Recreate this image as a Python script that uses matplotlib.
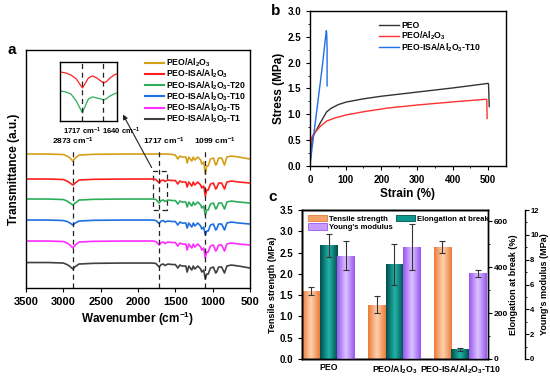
import numpy as np
import matplotlib
matplotlib.use("Agg")
import matplotlib.pyplot as plt
from matplotlib.colors import LinearSegmentedColormap
from matplotlib.patches import Rectangle, Patch

plt.rcParams['font.family'] = ['Liberation Sans', 'DejaVu Sans']
plt.rcParams['font.weight'] = 'bold'
plt.rcParams['axes.labelweight'] = 'bold'
plt.rcParams['mathtext.fontset'] = 'custom'
plt.rcParams['mathtext.rm'] = 'Liberation Sans:bold'
plt.rcParams['mathtext.it'] = 'Liberation Sans:bold'
plt.rcParams['mathtext.bf'] = 'Liberation Sans:bold'
plt.rcParams['mathtext.default'] = 'rm'
plt.rcParams['axes.linewidth'] = 1.0

# ---------------- Panel a data (FTIR) ----------------
wn = [3500, 3200, 3000, 2950, 2910, 2873, 2840, 2790, 2600, 2200, 1800, 1760, 1717, 1690, 1660,
      1640, 1600, 1540, 1500, 1467, 1440, 1410, 1360, 1342, 1320, 1280, 1260, 1240, 1200, 1160,
      1147, 1120, 1099, 1080, 1060, 1030, 990, 960, 947, 920, 880, 842, 810, 750, 650, 500]
ftir_labels = ["PEO/Al$_2$O$_3$", "PEO-ISA/Al$_2$O$_3$", "PEO-ISA/Al$_2$O$_3$-T20",
               "PEO-ISA/Al$_2$O$_3$-T10", "PEO-ISA/Al$_2$O$_3$-T5", "PEO-ISA/Al$_2$O$_3$-T1"]
ftir_colors = ["#d4a017", "#ff1f1f", "#2eae5a", "#1f6fe0", "#ff2bff", "#404040"]
t_peo_al = [134, 134, 133.5, 132, 130, 127, 130, 133, 133.7, 134, 134, 134, 134, 134, 134, 134, 134,
            133.5, 133, 129, 132, 131, 131, 125, 131, 127, 131, 128, 131, 128, 124, 126, 114, 122, 122,
            129, 130, 123, 124, 130, 130, 123, 131, 132, 131, 129]
t_isa = [109, 109, 108.5, 107, 105, 103, 105, 108, 108.7, 109, 109, 108.5, 105, 107.5, 108, 106.5,
         108, 107.5, 107.5, 104, 107, 106, 106, 101, 106, 102, 106, 103, 106, 103, 100, 102, 92, 98,
         98, 104, 105, 99, 100, 105, 105, 99, 106, 107, 106, 105]
t_t20 = [89, 89, 88.5, 87, 85, 83, 85, 88, 88.7, 89, 89, 88.5, 85, 87.5, 88, 86.5, 88, 87.5, 87.5, 84,
         87, 86, 86, 81, 86, 82, 86, 83, 86, 83, 80, 82, 73, 78, 78, 84, 85, 79, 80, 85, 85, 79, 86,
         87, 86, 85]
t_t10 = [68, 68, 67.5, 66.5, 65, 63, 65, 67, 67.7, 68, 68, 67.5, 64.5, 67, 67.5, 66, 67, 66.5, 66.5, 63,
         66, 65, 65, 60, 65, 61, 65, 62, 65, 62, 59, 61, 53, 57, 57, 63, 64, 58, 59, 64, 64, 58, 65,
         66, 65, 64]
t_t5 = [47, 47, 46.5, 45, 43, 40, 43, 46, 46.7, 47, 47, 46.5, 43, 45.5, 46, 44.5, 46, 45.5, 45.5, 42,
        45, 44, 44, 38, 44, 40, 44, 41, 44, 41, 38, 40, 30, 36, 36, 42, 43, 37, 38, 43, 43, 37, 44,
        45, 44, 43]
t_t1 = [25.5, 25.5, 25, 23.5, 21.5, 19, 21.5, 24, 24.7, 25, 25, 24.5, 21, 23.5, 24, 22.5, 24, 23.5,
        23.5, 20, 23, 22, 22, 16, 22, 18, 22, 19, 22, 19, 16, 18, 9, 14, 14, 20, 21, 15, 16, 21, 21,
        15, 22, 23, 22, 20]
ftir_series = [t_peo_al, t_isa, t_t20, t_t10, t_t5, t_t1]
peak_marks = [2873, 1717, 1099]

# inset
inset_wn = [1800, 1780, 1760, 1740, 1725, 1717, 1710, 1695, 1680, 1665, 1650, 1640, 1630, 1615, 1600, 1590]
inset_red = [49, 48, 46, 42, 36, 33, 36, 43, 45, 43, 40, 38, 39, 43, 46, 47]
inset_green = [30, 29, 27, 20, 12, 8, 13, 22, 24, 23, 22, 21, 22, 25, 27, 28]

# ---------------- Panel b data (stress-strain) ----------------
peo_strain = [0, 2, 5, 9, 20, 30, 47, 60, 80, 103, 150, 200, 300, 400, 490, 500, 501, 503]
peo_stress = [0, 0.3, 0.45, 0.58, 0.72, 0.85, 1.05, 1.12, 1.19, 1.24, 1.3, 1.35, 1.43, 1.51, 1.59, 1.6, 1.58, 1.15]
peoal_strain = [0, 2, 5, 10, 28, 47, 70, 103, 150, 217, 300, 400, 490, 496, 497]
peoal_stress = [0, 0.4, 0.55, 0.62, 0.76, 0.87, 0.93, 0.99, 1.05, 1.12, 1.18, 1.24, 1.29, 1.29, 0.92]
t10_strain = [0, 5, 15, 25, 35, 43, 46, 47, 48, 48]
t10_stress = [0, 0.3, 0.85, 1.4, 1.95, 2.45, 2.62, 2.55, 2.25, 1.55]

# ---------------- Panel c data (bars) ----------------
samples = ["PEO", "PEO/Al$_2$O$_3$", "PEO-ISA/Al$_2$O$_3$-T10"]
tensile = [1.60, 1.28, 2.64]
tensile_err = [0.09, 0.19, 0.14]
elong = [496, 413, 42]
elong_err = [50, 90, 8]
young = [8.33, 9.05, 6.91]
young_err = [1.2, 1.85, 0.27]

fig = plt.figure(figsize=(5.5, 3.79), dpi=100)

# ======== Panel a ========
axa = fig.add_axes([0.0473, 0.240, 0.4073, 0.628])
for s, c, lab in zip(ftir_series, ftir_colors, ftir_labels):
    axa.plot(wn, s, color=c, lw=1.2, label=lab)
axa.set_xlim(3500, 500)
axa.set_ylim(0, 238)
axa.set_yticks([])
axa.set_xticks([3500, 3000, 2500, 2000, 1500, 1000, 500])
axa.tick_params(axis='x', labelsize=8, length=3)
axa.set_xlabel("Wavenumber (cm$^{-1}$)", fontsize=8.5, labelpad=2)
axa.set_ylabel("Transmittance (a.u.)", fontsize=8.5, labelpad=4)
for p in peak_marks:
    axa.plot([p, p], [0, 139], ls=(0, (4, 3)), color='#222222', lw=0.9)
axa.text(2873, 141, "2873 cm$^{-1}$", ha='center', va='bottom', fontsize=6)
axa.text(1655, 141, "1717 cm$^{-1}$", ha='center', va='bottom', fontsize=6)
axa.text(975, 141, "1099 cm$^{-1}$", ha='center', va='bottom', fontsize=6)
axa.add_patch(Rectangle((1610, 78), 190, 39, fill=False, ls=(0, (4, 3)), lw=0.9, ec='#222222'))
axa.annotate("", xy=(2220, 176), xytext=(1800, 118),
             arrowprops=dict(arrowstyle='-|>', color='#222222', lw=0.8, mutation_scale=7))
leg = axa.legend(loc='upper left', bbox_to_anchor=(0.51, 0.99), frameon=False, fontsize=6.2,
                 handlelength=2.2, handletextpad=0.3, labelspacing=-0.15, borderpad=0)
for l in leg.get_lines():
    l.set_linewidth(1.5)

axi = fig.add_axes([0.109, 0.681, 0.1036, 0.1557])
axi.plot(inset_wn, inset_red, color=ftir_colors[1], lw=0.9)
axi.plot(inset_wn, inset_green, color=ftir_colors[2], lw=0.9)
axi.set_xlim(1800, 1590)
axi.set_ylim(0, 59)
axi.set_xticks([]); axi.set_yticks([])
for p in [1717, 1640]:
    axi.axvline(p, ls=(0, (4, 3)), color='#222222', lw=0.9)
axi.text(1717, -5, "1717 cm$^{-1}$", ha='center', va='top', fontsize=5.5)
axi.text(1645, -5, "1640 cm$^{-1}$", ha='left', va='top', fontsize=5.5)
fig.text(0.022, 0.868, "a", fontsize=11, ha='center', va='center')

# ======== Panel b ========
axb = fig.add_axes([0.5636, 0.562, 0.3564, 0.409])
axb.plot(peo_strain, peo_stress, color='#333333', lw=1.0, label='PEO')
axb.plot(peoal_strain, peoal_stress, color='#ff3030', lw=1.0, label='PEO/Al$_2$O$_3$')
axb.plot(t10_strain, t10_stress, color='#1f6fe6', lw=1.0, label='PEO-ISA/Al$_2$O$_3$-T10')
axb.set_xlim(0, 550)
axb.set_ylim(0, 3.0)
axb.set_xticks([0, 100, 200, 300, 400, 500])
axb.set_xticks(np.arange(50, 550, 100), minor=True)
axb.set_yticks(np.arange(0, 3.01, 0.5))
axb.set_yticks(np.arange(0.25, 3.0, 0.5), minor=True)
axb.tick_params(labelsize=7, length=3)
axb.tick_params(which='minor', length=1.5)
axb.set_xlabel("Strain (%)", fontsize=8.5, labelpad=2)
axb.set_ylabel("Stress (MPa)", fontsize=8.5, labelpad=2)
axb.legend(loc='upper left', bbox_to_anchor=(0.33, 0.96), frameon=False, fontsize=6.2,
           handlelength=2.3, handletextpad=0.3, labelspacing=-0.1, borderpad=0)
fig.text(0.502, 0.971, "b", fontsize=11, ha='center', va='center')

# ======== Panel c ========
axc = fig.add_axes([0.549, 0.0528, 0.338, 0.393])
axc2 = axc.twinx()
axc3 = axc.twinx()
axc3.spines['right'].set_position(('outward', 26.5))
x = np.arange(len(samples))
w = 0.27


def grad_fill(ax, bars, c_edge, c_mid):
    cmap = LinearSegmentedColormap.from_list('g', [c_edge, c_mid, c_edge])
    g = np.linspace(0, 1, 64).reshape(1, -1)
    for b in bars:
        x0, y0 = b.get_x(), b.get_y()
        bw, bh = b.get_width(), b.get_height()
        im = ax.imshow(g, cmap=cmap, extent=[x0, x0 + bw, y0, y0 + bh], aspect='auto',
                       zorder=2, interpolation='bicubic')
        im.set_clip_path(b)
        b.set_facecolor('none')


b1 = axc.bar(x - w, tensile, w, color='#f4a46a', zorder=2, lw=0)
grad_fill(axc, b1, '#ee7a38', '#fcd2b0')
axc.errorbar(x - w, tensile, yerr=tensile_err, fmt='none', ecolor='#333333', capsize=2, elinewidth=0.8, capthick=0.8, zorder=3)
b2 = axc2.bar(x, elong, w, color='#0a9a90', zorder=2, lw=0)
grad_fill(axc2, b2, '#004d4a', '#22b5aa')
axc2.errorbar(x, elong, yerr=elong_err, fmt='none', ecolor='#333333', capsize=2, elinewidth=0.8, capthick=0.8, zorder=3)
b3 = axc3.bar(x + w, young, w, color='#b884ff', zorder=2, lw=0)
grad_fill(axc3, b3, '#9a55f2', '#dcc4ff')
axc3.errorbar(x + w, young, yerr=young_err, fmt='none', ecolor='#333333', capsize=2, elinewidth=0.8, capthick=0.8, zorder=3)

for a in (axc, axc2, axc3):
    a.set_xlim(-0.405, 2.42)
axc.set_ylim(0, 3.5)
axc2.set_ylim(0, 650)
axc3.set_ylim(0, 12)
axc.set_xticks(x)
axc.set_xticklabels(samples, fontsize=6.3)
axc.tick_params(axis='x', length=0, pad=3)
axc.set_yticks(np.arange(0, 3.51, 0.5))
axc.tick_params(axis='y', labelsize=7, length=3)
axc2.set_yticks([0, 200, 400, 600])
axc2.set_yticks([100, 300, 500], minor=True)
axc2.tick_params(axis='y', labelsize=6, length=3, pad=1)
axc2.tick_params(which='minor', length=1.5)
axc3.set_yticks([0, 2, 4, 6, 8, 10, 12])
axc3.set_yticks([1, 3, 5, 7, 9, 11], minor=True)
axc3.tick_params(axis='y', labelsize=5.5, length=3, pad=1)
axc3.tick_params(which='minor', length=1.5)
axc.set_ylabel("Tensile strength (MPa)", fontsize=6.5, labelpad=2)
axc2.set_ylabel("Elongation at break (%)", fontsize=6.5, labelpad=1)
axc3.set_ylabel("Young's modulus (MPa)", fontsize=6.5, labelpad=1)

handles = [Patch(facecolor='#f4a46a', edgecolor='#ee7a38', lw=0.6),
           Patch(facecolor='#c79bff', edgecolor='#9a55f2', lw=0.6),
           Patch(facecolor='#0a9a90', edgecolor='#004d4a', lw=0.6)]
labels = ["Tensile strength", "Young's modulus", "Elongation at break"]
axc3.legend(handles, labels, loc='upper left', bbox_to_anchor=(0.01, 1.0), ncol=2, frameon=False,
            fontsize=5.6, handlelength=2.4, handleheight=0.9, handletextpad=0.3, columnspacing=0.4,
            labelspacing=0.1, borderpad=0.1)
fig.text(0.496, 0.48, "c", fontsize=11, ha='center', va='center')

fig.savefig("out.png", dpi=100)
